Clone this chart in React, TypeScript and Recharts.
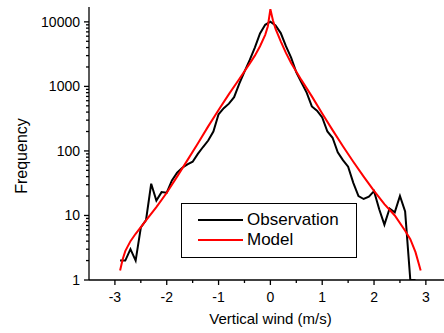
import React from 'react';
import { LineChart, Line, XAxis, YAxis, Label } from 'recharts';

// observed histogram of vertical wind, bins of 0.1 m/s
const windBins = [
  -2.9, -2.8, -2.7, -2.6, -2.5, -2.4, -2.3, -2.2, -2.1, -2.0,
  -1.9, -1.8, -1.7, -1.6, -1.5, -1.4, -1.3, -1.2, -1.1, -1.0,
  -0.9, -0.8, -0.7, -0.6, -0.5, -0.4, -0.3, -0.2, -0.1, 0.0,
  0.1, 0.2, 0.3, 0.4, 0.5, 0.6, 0.7, 0.8, 0.9, 1.0,
  1.1, 1.2, 1.3, 1.4, 1.5, 1.6, 1.7, 1.8, 1.9, 2.0,
  2.1, 2.2, 2.3, 2.4, 2.5, 2.6, 2.7, 2.8,
];
const observed = [
  2, 2, 3, 2, 6.5, 8.5, 31, 17, 23, 22.5,
  35, 46, 55, 62, 68, 90, 115, 145, 200, 370,
  460, 540, 680, 1100, 1700, 2550, 4000, 6600, 9000, 10100,
  8800, 6700, 4200, 2800, 1650, 1150, 800, 490, 420, 330,
  200, 160, 95, 72, 57, 32, 20, 18, 19.5, 23.8,
  12.5, 7.2, 12.8, 11.2, 20, 11.5, 1, 1,
];

// fitted model curve
const modelWind = [
  -2.9, -2.85, -2.8, -2.7, -2.6, -2.5, -2.4, -2.2, -2.0, -1.8, -1.6,
  -1.4, -1.2, -1.0, -0.8, -0.6, -0.4, -0.3, -0.2, -0.1, -0.05,
  0, 0.05, 0.1, 0.2, 0.3, 0.4, 0.6, 0.8, 1.0, 1.2,
  1.4, 1.6, 1.8, 2.0, 2.2, 2.4, 2.6, 2.7, 2.8, 2.9,
];
const modelFreq = [
  1.4, 2.1, 2.8, 4.0, 5.2, 6.6, 8.4, 13.5, 22.5, 40, 72,
  130, 240, 430, 760, 1300, 2250, 3000, 4200, 6300, 8500,
  15700, 10500, 7800, 5000, 3300, 2300, 1250, 700, 380, 210,
  118, 68, 40, 24, 15, 10, 5.8, 4.3, 2.7, 1.4,
];

const xTicks = [-3, -2.5, -2, -1.5, -1, -0.5, 0, 0.5, 1, 1.5, 2, 2.5, 3];
const yMajor = [1, 10, 100, 1000, 10000];
const yTicks = [
  1, 2, 3, 4, 5, 6, 7, 8, 9,
  10, 20, 30, 40, 50, 60, 70, 80, 90,
  100, 200, 300, 400, 500, 600, 700, 800, 900,
  1000, 2000, 3000, 4000, 5000, 6000, 7000, 8000, 9000,
  10000,
];

const seriesNames = ['Observation', 'Model'];
const seriesColors = ['#000000', '#ff0000'];

const obsData = windBins.map((x, i) => ({ x, y: observed[i] }));
const modelData = modelWind.map((x, i) => ({ x, y: modelFreq[i] }));

const FONT = 'Arial, "Liberation Sans", sans-serif';

const XTick = (props: any) => {
  const { x, y, payload } = props;
  const v = payload.value;
  const major = Number.isInteger(v);
  return (
    <g>
      <line x1={x} x2={x} y1={y} y2={y + (major ? 5 : 3)} stroke="#000" strokeWidth={1.3} />
      {major && (
        <text x={x} y={y + 22} textAnchor="middle" fontSize={14} fill="#000" fontFamily={FONT}>
          {String(v)}
        </text>
      )}
    </g>
  );
};

const YTick = (props: any) => {
  const { x, y, payload } = props;
  const v = payload.value;
  const major = yMajor.includes(v);
  return (
    <g>
      <line x1={x - (major ? 5 : 3)} x2={x} y1={y} y2={y} stroke="#000" strokeWidth={1.3} />
      {major && (
        <text x={x - 9} y={y} dy="0.35em" textAnchor="end" fontSize={14} fill="#000" fontFamily={FONT}>
          {String(v)}
        </text>
      )}
    </g>
  );
};

export default function App() {
  return (
    <div style={{ position: 'absolute', left: 0, top: 0, width: 444, height: 333, background: '#fff', fontFamily: FONT }}>
      <LineChart width={444} height={333} margin={{ top: 7, right: 0, bottom: 8, left: 0 }}>
        <XAxis
          type="number"
          dataKey="x"
          domain={[-3.5, 3.35]}
          ticks={xTicks}
          allowDataOverflow
          tick={<XTick />}
          tickLine={false}
          tickSize={0}
          tickMargin={0}
          height={45}
          axisLine={{ stroke: '#000', strokeWidth: 1.3 }}
        >
          <Label value="Vertical wind (m/s)" position="insideBottom" offset={1} dx={4} fill="#000" fontSize={15} fontFamily={FONT} />
        </XAxis>
        <YAxis
          type="number"
          dataKey="y"
          scale="log"
          domain={[1, 17000]}
          ticks={yTicks}
          interval={0}
          allowDataOverflow
          tick={<YTick />}
          tickLine={false}
          tickSize={0}
          tickMargin={0}
          width={89}
          axisLine={{ stroke: '#000', strokeWidth: 1.3 }}
        >
          <Label
            content={() => (
              <text
                x={21}
                y={156}
                transform="rotate(-90 21 156)"
                textAnchor="middle"
                dominantBaseline="central"
                fontSize={16}
                fill="#000"
                fontFamily={FONT}
              >
                Frequency
              </text>
            )}
          />
        </YAxis>
        <Line data={obsData} dataKey="y" type="linear" stroke={seriesColors[0]} strokeWidth={2} dot={false} isAnimationActive={false} />
        <Line data={modelData} dataKey="y" type="linear" stroke={seriesColors[1]} strokeWidth={2} dot={false} isAnimationActive={false} />
      </LineChart>
      <div
        style={{
          position: 'absolute',
          left: 181,
          top: 203,
          width: 176,
          height: 55,
          border: '1px solid #000',
          boxSizing: 'border-box',
          background: '#fff',
        }}
      >
        {seriesNames.map((name, i) => (
          <div
            key={name}
            style={{ position: 'absolute', left: 16, top: 6 + i * 20, height: 20, display: 'flex', alignItems: 'center' }}
          >
            <div style={{ width: 45, height: 2, background: seriesColors[i] }} />
            <span style={{ marginLeft: 4, fontSize: 17, color: '#000', whiteSpace: 'nowrap' }}>{name}</span>
          </div>
        ))}
      </div>
    </div>
  );
}
